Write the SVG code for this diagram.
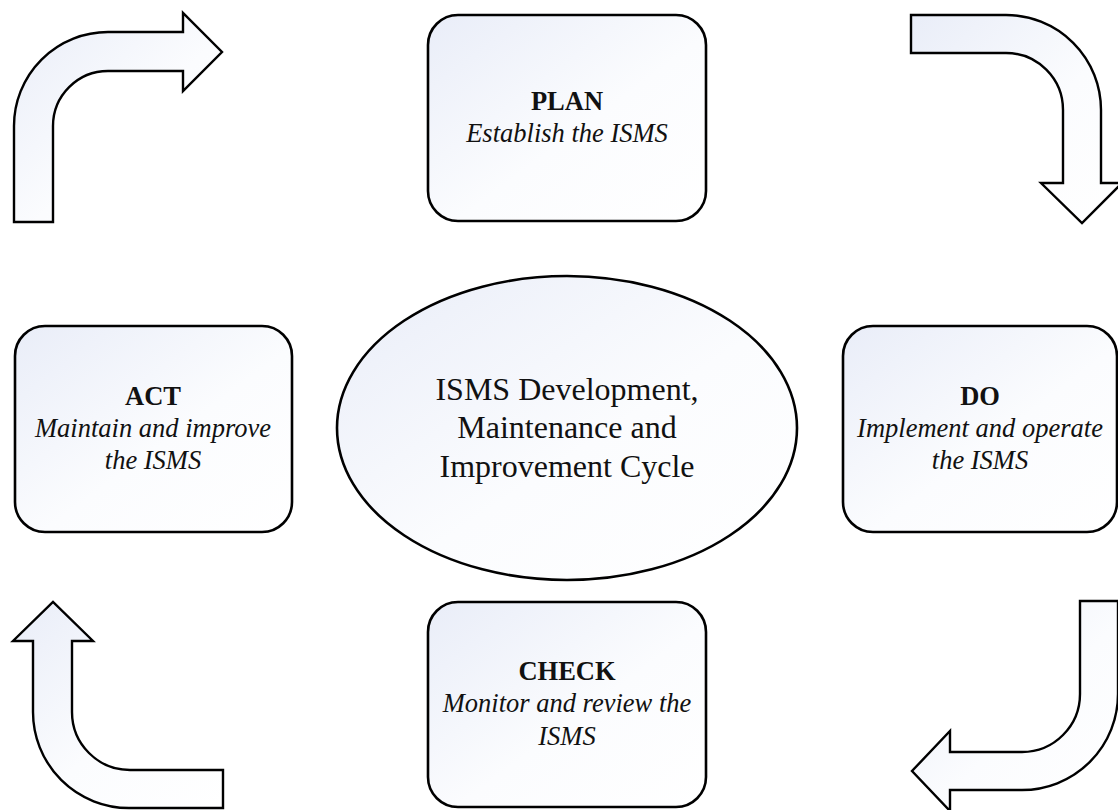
<svg xmlns="http://www.w3.org/2000/svg" width="1118" height="810" viewBox="0 0 1118 810">
<defs>
<linearGradient id="g" x1="0" y1="0" x2="1" y2="1">
<stop offset="0" stop-color="#e9edf8"/>
<stop offset="0.55" stop-color="#fbfcfe"/>
<stop offset="1" stop-color="#ffffff"/>
</linearGradient>
<style>
.box{fill:url(#g);stroke:#000;stroke-width:2.6}
.arr{fill:url(#g);stroke:#000;stroke-width:2.4;stroke-linejoin:miter}
.t{font-family:"Liberation Serif","Times New Roman",serif;font-size:26.5px;fill:#111;text-anchor:middle}
.b{font-weight:bold}
.i{font-style:italic}
.c{font-family:"Liberation Serif","Times New Roman",serif;font-size:32px;fill:#111;text-anchor:middle}
</style>
</defs>
<rect width="1118" height="810" fill="#fff"/>
<g id="connectors">
<path class="arr" d="M14,222 L14,126 A94,94 0 0 1 108,32 L183,32 L183,13 L222,52 L183,91 L183,71 L108,71 A55,55 0 0 0 53,126 L53,222 Z"/>
<path class="arr" d="M911,15 L1006,15 A95,95 0 0 1 1101,110 L1101,183 L1122,183 L1082,223 L1041,183 L1063,183 L1063,110 A57,57 0 0 0 1006,53 L911,53 Z"/>
<path class="arr" d="M1080,601 L1118,601 L1118,694 A96,96 0 0 1 1022,790 L950,790 L950,811 L912,771 L950,731 L950,752 L1022,752 A58,58 0 0 0 1080,694 Z"/>
<path class="arr" d="M223,770 L130,770 A58,58 0 0 1 72,712 L72,641 L93,641 L53,602 L13,641 L33,641 L33,712 A96,96 0 0 0 129,808 L223,808 Z"/>
</g>
<g id="center">
<ellipse class="box" cx="567" cy="428" rx="230" ry="152"/>
<text class="c" x="567" y="400">ISMS Development,</text>
<text class="c" x="567" y="438">Maintenance and</text>
<text class="c" x="567" y="477">Improvement Cycle</text>
</g>
<g id="plan">
<rect class="box" x="428" y="15" width="278" height="206" rx="30"/>
<text class="t b" x="567" y="110">PLAN</text>
<text class="t i" x="567" y="142">Establish the ISMS</text>
</g>
<g id="do">
<rect class="box" x="843" y="326" width="274" height="206" rx="30"/>
<text class="t b" x="980" y="405">DO</text>
<text class="t i" x="980" y="437">Implement and operate</text>
<text class="t i" x="980" y="469">the ISMS</text>
</g>
<g id="check">
<rect class="box" x="428" y="602" width="278" height="205" rx="30"/>
<text class="t b" x="567" y="680">CHECK</text>
<text class="t i" x="567" y="712">Monitor and review the</text>
<text class="t i" x="567" y="745">ISMS</text>
</g>
<g id="act">
<rect class="box" x="15" y="326" width="277" height="206" rx="30"/>
<text class="t b" x="153" y="405">ACT</text>
<text class="t i" x="153" y="437">Maintain and improve</text>
<text class="t i" x="153" y="469">the ISMS</text>
</g>
</svg>
